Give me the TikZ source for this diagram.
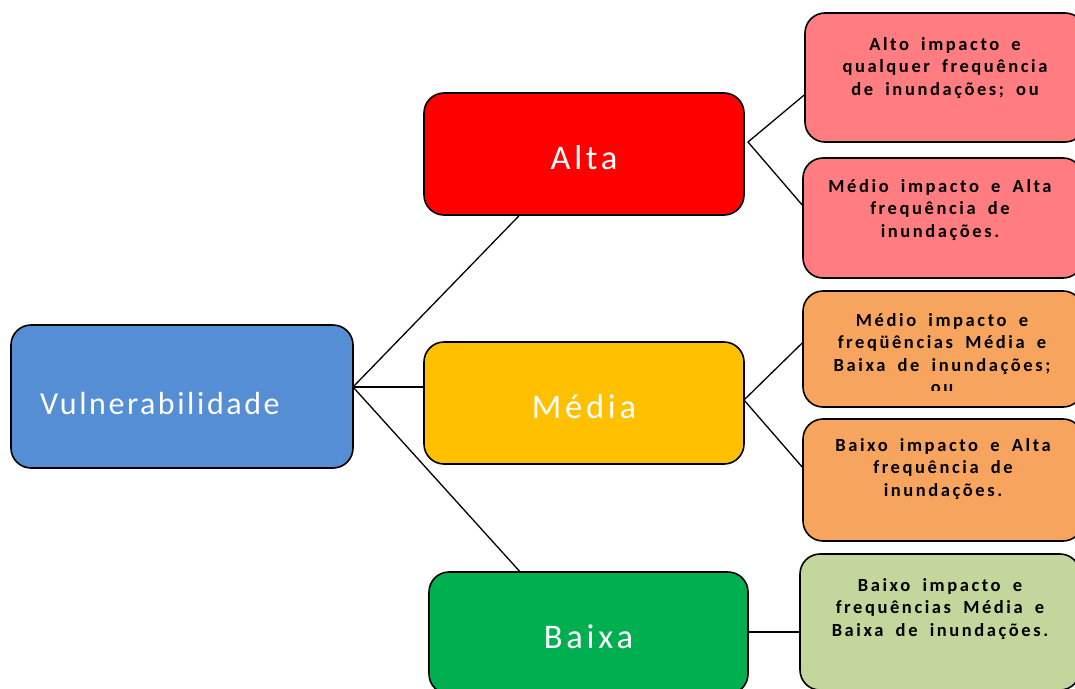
\documentclass[tikz,border=0pt]{standalone}
\usepackage{fontspec}
\usepackage{tikz}
\setmainfont{Carlito}
\newfontfamily\bigfont[LetterSpace=11]{Carlito}
\newfontfamily\rootfont[LetterSpace=8]{Carlito}
\newfontfamily\notefont[LetterSpace=14,WordSpace=1.8]{Carlito}

\definecolor{vulblue}{HTML}{558ED5}
\definecolor{altared}{HTML}{FF0000}
\definecolor{mediagold}{HTML}{FFC000}
\definecolor{baixagreen}{HTML}{00B050}
\definecolor{notepink}{HTML}{FF7C80}
\definecolor{noteorange}{HTML}{F7A45F}
\definecolor{noteolive}{HTML}{C3D69B}

\tikzset{
  mainbox/.style={draw=black, line width=1.6pt, rounded corners=20pt,
    minimum width=320pt, minimum height=122pt, text=white, text height=32pt,
    font=\bigfont\fontsize{34.5}{41}\selectfont},
  notebox/.style={draw=black, line width=1.6pt, rounded corners=20pt,
    minimum width=280pt},
  notetext/.style={align=center, inner sep=0pt,
    font=\notefont\bfseries\fontsize{18.5}{22.5}\selectfont},
  link/.style={line width=1.3pt}
}

\begin{document}
\begin{tikzpicture}[x=1pt,y=-1pt]
    \clip (0,0) rectangle (1075,688);
    \fill[white] (0,0) rectangle (1075,688);
    % left root
    \node (vul) [mainbox, fill=vulblue, minimum width=342pt, minimum height=143pt,
      text width=284pt, inner xsep=29pt, align=left, text height=36pt,
      font=\rootfont\fontsize{32}{38}\selectfont] at (182,396.5) {Vulnerabilidade};
    % middle column
    \node (alta) [mainbox, fill=altared] at (584,154) {Alta};
    \node (media) [mainbox, fill=mediagold] at (584,403) {Média};
    \node (baixa) [mainbox, fill=baixagreen, minimum width=319pt] at (588.5,633) {Baixa};
    % right column
    \node (r1) [notebox, fill=notepink, minimum height=129pt] at (945,77.5) {};
    \node (r2) [notebox, fill=notepink, minimum height=120pt] at (943,218) {};
    \node (r3) [notebox, fill=noteorange, minimum height=116pt] at (943,349) {};
    \node (r4) [notebox, fill=noteorange, minimum height=122pt] at (943,480) {};
    \node (r5) [notebox, fill=noteolive, minimum height=136pt] at (940,622) {};
    \node (t1) [notetext] at (945,68) {Alto impacto e\\qualquer frequência\\de inundações; ou};
    \node (t2) [notetext] at (940,210) {Médio impacto e Alta\\frequência de\\inundações.};
    \begin{scope}
      \clip (803,291) rectangle (1083,390);
      \node (t3) [notetext, anchor=north] at (942,313) {Médio impacto e\\freqüências Média e\\Baixa de inundações;\\ou};
    \end{scope}
    \node (t4) [notetext] at (943,469) {Baixo impacto e Alta\\frequência de\\inundações.};
    \node (t5) [notetext] at (940,609) {Baixo impacto e\\frequências Média e\\Baixa de inundações.};
    % connectors
    \coordinate (vulhub) at (353,387);
    \coordinate (altahub) at (748,142);
    \coordinate (mediahub) at (744,400);
    \draw[link] (vulhub) -- ([xshift=-65pt]alta.south);
    \draw[link] (vulhub) -- (vulhub -| media.west);
    \draw[link] (vulhub) -- ([xshift=-69pt]baixa.north);
    \draw[link] ([yshift=-17.5pt]r1.west) -- (altahub) -- ([yshift=13pt]r2.west);
    \draw[link] ([yshift=6pt]r3.west) -- (mediahub) -- ([yshift=13pt]r4.west);
    \draw[link] (baixa.east |- 0,632) -- (baixa.east |- 0,632 -| r5.west);
\end{tikzpicture}
\end{document}
